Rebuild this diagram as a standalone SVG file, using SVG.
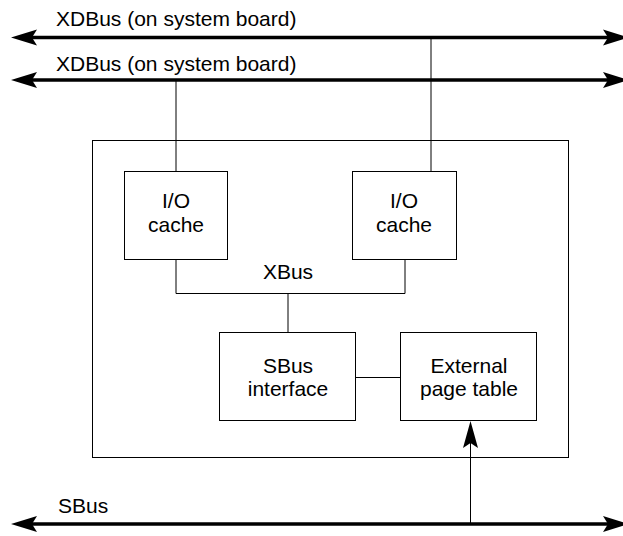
<svg xmlns="http://www.w3.org/2000/svg" width="623" height="536" viewBox="0 0 623 536">
<style>
  .box { fill: #fff; stroke: #000; stroke-width: 1; }
  .frame { fill: none; stroke: #000; stroke-width: 1; }
  .t { font-family: "Liberation Sans", Arial, sans-serif; font-size: 21px; fill: #000; }
  .c { text-anchor: middle; }
  .bus { stroke: #000; stroke-width: 3.5; fill: none; }
  .wire { stroke: #000; stroke-width: 1; fill: none; }
  .head { fill: #000; stroke: none; }
</style>
<rect x="0" y="0" width="623" height="536" fill="#fff"/>
<g id="frame">
  <rect class="frame" x="92.5" y="140.5" width="476" height="317"/>
</g>
<g id="connectors">
  <line class="wire" x1="176" y1="80" x2="176" y2="171"/>
  <line class="wire" x1="431" y1="38" x2="431" y2="171"/>
  <path class="wire" d="M176,259 V293.5 H405 V259"/>
  <line class="wire" x1="288" y1="293.5" x2="288" y2="332"/>
  <line class="wire" x1="355" y1="377.5" x2="400" y2="377.5"/>
  <line class="wire" x1="470.5" y1="524" x2="470.5" y2="440"/>
  <path class="head" d="M470.5,421 L478,448 L470.5,443 L463,448 Z"/>
</g>
<g id="xdbus1">
  <line class="bus" x1="30" y1="37.5" x2="610" y2="37.5"/>
  <path class="head" d="M11,37.5 L37,29.5 L32,37.5 L37,45.5 Z"/>
  <path class="head" d="M629,37.5 L603,29.5 L608,37.5 L603,45.5 Z"/>
  <text class="t" x="56" y="26">XDBus (on system board)</text>
</g>
<g id="xdbus2">
  <line class="bus" x1="30" y1="80" x2="610" y2="80"/>
  <path class="head" d="M11,80 L37,72 L32,80 L37,88 Z"/>
  <path class="head" d="M629,80 L603,72 L608,80 L603,88 Z"/>
  <text class="t" x="56" y="71">XDBus (on system board)</text>
</g>
<g id="sbus">
  <line class="bus" x1="30" y1="524" x2="610" y2="524"/>
  <path class="head" d="M11,524 L37,516 L32,524 L37,532 Z"/>
  <path class="head" d="M629,524 L603,516 L608,524 L603,532 Z"/>
  <text class="t" x="58" y="513">SBus</text>
</g>
<g id="io-cache-left">
  <rect class="box" x="124.5" y="171.5" width="103" height="88"/>
  <text class="t c" x="176" y="208">I/O</text>
  <text class="t c" x="176" y="232">cache</text>
</g>
<g id="io-cache-right">
  <rect class="box" x="352.5" y="171.5" width="104" height="88"/>
  <text class="t c" x="404" y="208">I/O</text>
  <text class="t c" x="404" y="232">cache</text>
</g>
<g id="xbus-label">
  <text class="t c" x="288" y="279">XBus</text>
</g>
<g id="sbus-interface">
  <rect class="box" x="219.5" y="332.5" width="136" height="88"/>
  <text class="t c" x="288" y="373">SBus</text>
  <text class="t c" x="288" y="396">interface</text>
</g>
<g id="external-page-table">
  <rect class="box" x="400.5" y="332.5" width="136" height="88"/>
  <text class="t c" x="469" y="373">External</text>
  <text class="t c" x="469" y="396">page table</text>
</g>
</svg>
